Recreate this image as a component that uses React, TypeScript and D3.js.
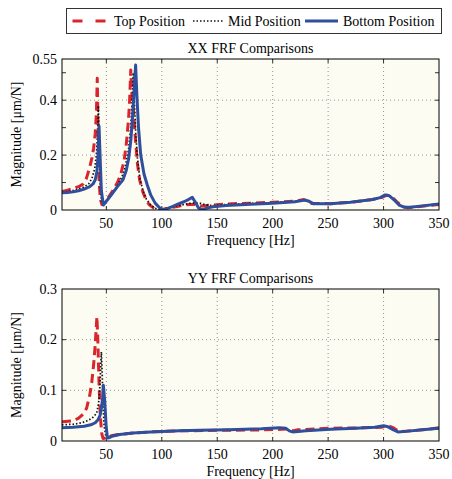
import React from "react";
import * as d3 from "d3";

// ---------- DATA ----------
const xTicks = [50, 100, 150, 200, 250, 300, 350];
const xxYTickLabels = [0, 0.2, 0.4, 0.55];
const xxYMinor = [0.1, 0.2, 0.3, 0.4, 0.5];
const yyYTickLabels = [0, 0.1, 0.2, 0.3];
const yyYMinor = [0.1, 0.2];

const seriesNames = ["Top Position", "Mid Position", "Bottom Position"];

// XX – Top position
const xxTopF = [10, 15, 20, 25, 29, 32, 35, 37, 38.5, 40, 41, 41.8, 42.5, 43.3, 44.5, 46, 50, 55, 60, 63, 66, 68, 70, 71, 72, 73, 74.5, 76, 78, 80, 83, 86, 89, 93, 97, 100, 105, 110, 115, 120, 125, 130, 135, 140, 146, 158, 180, 200, 220, 228, 231, 235, 252, 270, 290, 298, 303, 307, 312, 317, 322, 330, 350];
const xxTopV = [0.067, 0.072, 0.078, 0.085, 0.095, 0.115, 0.155, 0.19, 0.225, 0.28, 0.35, 0.48, 0.3, 0.12, 0.04, 0.02, 0.035, 0.065, 0.1, 0.13, 0.18, 0.24, 0.33, 0.4, 0.51, 0.42, 0.36, 0.27, 0.17, 0.11, 0.065, 0.035, 0.018, 0.006, 0.0, 0.002, 0.006, 0.01, 0.014, 0.018, 0.02, 0.02, 0.015, 0.016, 0.018, 0.022, 0.025, 0.028, 0.032, 0.038, 0.034, 0.024, 0.023, 0.028, 0.038, 0.045, 0.054, 0.05, 0.03, 0.012, 0.008, 0.012, 0.02];

// XX – Mid position
const xxMidF = [10, 15, 20, 25, 30, 34, 37, 39.5, 41, 42, 42.8, 43.6, 44.5, 45.8, 47.5, 50, 55, 60, 64, 67, 70, 72, 73.3, 74.3, 75.2, 76.5, 78, 80, 83, 86, 90, 94, 98, 102, 108, 115, 120, 125, 130, 135, 140, 146, 158, 180, 200, 220, 229, 232, 236, 252, 270, 290, 298, 302, 306, 311, 316, 322, 332, 350];
const xxMidV = [0.065, 0.067, 0.071, 0.076, 0.084, 0.095, 0.115, 0.15, 0.2, 0.27, 0.38, 0.22, 0.08, 0.03, 0.02, 0.032, 0.06, 0.09, 0.12, 0.155, 0.22, 0.3, 0.4, 0.5, 0.4, 0.28, 0.19, 0.12, 0.07, 0.04, 0.018, 0.006, 0.001, 0.004, 0.01, 0.016, 0.02, 0.024, 0.026, 0.024, 0.018, 0.016, 0.02, 0.024, 0.027, 0.031, 0.037, 0.034, 0.023, 0.023, 0.028, 0.038, 0.045, 0.055, 0.051, 0.032, 0.013, 0.009, 0.013, 0.021];

// XX – Bottom position
const xxBotF = [10, 15, 20, 25, 30, 35, 38, 40, 41.5, 42.5, 43.4, 44.3, 45.5, 47.3, 50, 55, 60, 65, 68, 70, 72, 74, 75.5, 76.4, 77.5, 79, 81, 84, 87, 90, 94, 98, 101, 105, 110, 115, 120, 124, 127.5, 130, 133, 136, 140, 146, 158, 180, 200, 220, 229, 232, 236.6, 252, 270, 290, 297, 301.5, 305, 310, 314, 318, 324, 335, 350];
const xxBotV = [0.063, 0.064, 0.066, 0.07, 0.076, 0.085, 0.095, 0.11, 0.14, 0.2, 0.306, 0.2, 0.07, 0.018, 0.032, 0.058, 0.085, 0.11, 0.145, 0.185, 0.25, 0.36, 0.47, 0.528, 0.42, 0.3, 0.2, 0.13, 0.09, 0.055, 0.025, 0.008, 0.0, 0.005, 0.013, 0.022, 0.03, 0.038, 0.046, 0.03, 0.008, 0.002, 0.006, 0.012, 0.016, 0.021, 0.025, 0.03, 0.036, 0.033, 0.023, 0.023, 0.028, 0.038, 0.045, 0.055, 0.052, 0.035, 0.018, 0.011, 0.01, 0.015, 0.022];

// YY – Top position
const yyTopF = [10, 20, 25, 30, 32.2, 35, 36.8, 38.5, 39.8, 40.8, 41.5, 42.3, 43.3, 44.5, 45.8, 47, 49, 52, 58, 70, 90, 116, 150, 190, 208, 214, 218, 222, 250, 280, 298, 304, 308, 313, 318, 335, 350];
const yyTopV = [0.038, 0.04, 0.045, 0.055, 0.065, 0.09, 0.115, 0.15, 0.186, 0.22, 0.245, 0.2, 0.12, 0.05, 0.015, 0.005, 0.006, 0.009, 0.012, 0.015, 0.018, 0.02, 0.021, 0.022, 0.023, 0.024, 0.02, 0.022, 0.025, 0.026, 0.027, 0.03, 0.027, 0.02, 0.019, 0.022, 0.026];

// YY – Mid position
const yyMidF = [10, 20, 28, 34, 38, 41.3, 43, 44, 44.8, 45.5, 46.3, 47, 48, 49.5, 51, 53, 60, 75, 90, 116, 134, 160, 190, 206, 212, 215, 218, 230, 252, 275, 292, 300, 304, 309, 313, 320, 335, 350];
const yyMidV = [0.032, 0.033, 0.036, 0.041, 0.047, 0.055, 0.075, 0.1, 0.14, 0.176, 0.13, 0.07, 0.03, 0.01, 0.006, 0.009, 0.013, 0.016, 0.018, 0.02, 0.021, 0.022, 0.024, 0.026, 0.025, 0.02, 0.018, 0.02, 0.023, 0.025, 0.027, 0.03, 0.028, 0.022, 0.018, 0.019, 0.022, 0.025];

// YY – Bottom position
const yyBotF = [10, 20, 30, 36, 40, 42.5, 44.3, 45.8, 46.6, 47.3, 48.5, 49.8, 51, 53, 56, 62, 74, 90, 116, 134, 160, 190, 206, 212, 215, 218, 230, 252, 275, 292, 300, 304, 309, 313, 320, 335, 350];
const yyBotV = [0.026, 0.027, 0.029, 0.032, 0.036, 0.042, 0.05, 0.068, 0.085, 0.11, 0.08, 0.03, 0.006, 0.007, 0.01, 0.013, 0.016, 0.018, 0.02, 0.021, 0.022, 0.024, 0.026, 0.025, 0.02, 0.018, 0.02, 0.023, 0.025, 0.027, 0.03, 0.028, 0.022, 0.018, 0.019, 0.022, 0.025];

// ---------- STYLE ----------
const FONT = "'Liberation Serif', 'Times New Roman', serif";
const RED = "#d9252c";
const BLUE = "#2f4f9d";
const MID = "#111";
const BG = "#fcfcf3";

const styles = [
  { stroke: RED, width: 3, dash: "9,5" },
  { stroke: MID, width: 1.7, dash: "1.5,2" },
  { stroke: BLUE, width: 3, dash: undefined as string | undefined },
];

type PanelProps = {
  id: string;
  top: number;
  bottom: number;
  left: number;
  right: number;
  yMax: number;
  yLabels: number[];
  yMinor: number[];
  title: string;
  series: { f: number[]; v: number[] }[];
};

function Panel(p: PanelProps) {
  const x = d3.scaleLinear().domain([10, 350]).range([p.left, p.right]);
  const y = d3.scaleLinear().domain([0, p.yMax]).range([p.bottom, p.top]);
  const fmt = (d: number) => (d === 0 ? "0" : String(d));
  const gridY = p.yLabels.filter((d) => d > 0 && d < p.yMax);
  const allY = Array.from(new Set([...p.yMinor, ...p.yLabels])).filter((d) => d > 0 && d < p.yMax);
  const tl = 4;
  const midX = (p.left + p.right) / 2;
  return (
    <g fontFamily={FONT} fontSize={14} fill="#000">
      <defs>
        <clipPath id={p.id}>
          <rect x={p.left} y={p.top} width={p.right - p.left} height={p.bottom - p.top} />
        </clipPath>
      </defs>
      <rect x={p.left} y={p.top} width={p.right - p.left} height={p.bottom - p.top} fill={BG} />
      {/* grid */}
      {xTicks.filter((t) => t < 350).map((t) => (
        <line key={"gx" + t} x1={x(t)} x2={x(t)} y1={p.top} y2={p.bottom} stroke="#777" strokeWidth={0.8} strokeDasharray="1,3" />
      ))}
      {gridY.map((t) => (
        <line key={"gy" + t} x1={p.left} x2={p.right} y1={y(t)} y2={y(t)} stroke="#777" strokeWidth={0.8} strokeDasharray="1,3" />
      ))}
      {/* ticks */}
      {xTicks.filter((t) => t < 350).map((t) => (
        <g key={"tx" + t}>
          <line x1={x(t)} x2={x(t)} y1={p.bottom} y2={p.bottom - tl} stroke="#000" strokeWidth={0.8} />
          <line x1={x(t)} x2={x(t)} y1={p.top} y2={p.top + tl} stroke="#000" strokeWidth={0.8} />
        </g>
      ))}
      {allY.map((t) => (
        <g key={"ty" + t}>
          <line x1={p.left} x2={p.left + tl} y1={y(t)} y2={y(t)} stroke="#000" strokeWidth={0.8} />
          <line x1={p.right} x2={p.right - tl} y1={y(t)} y2={y(t)} stroke="#000" strokeWidth={0.8} />
        </g>
      ))}
      {/* series */}
      <g clipPath={`url(#${p.id})`}>
        {p.series.map((s, i) => {
          const pts = s.f.map((f, k) => [f, s.v[k]] as [number, number]);
          const line = d3
            .line<[number, number]>()
            .x((d) => x(d[0]))
            .y((d) => y(d[1]));
          return (
            <path
              key={i}
              d={line(pts) || ""}
              fill="none"
              stroke={styles[i].stroke}
              strokeWidth={styles[i].width}
              strokeDasharray={styles[i].dash}
              strokeLinejoin="round"
            />
          );
        })}
      </g>
      {/* frame */}
      <rect x={p.left} y={p.top} width={p.right - p.left} height={p.bottom - p.top} fill="none" stroke="#000" strokeWidth={1} />
      {/* tick labels */}
      {xTicks.map((t) => (
        <text key={"lx" + t} x={x(t)} y={p.bottom + 17.5} textAnchor="middle">
          {t}
        </text>
      ))}
      {p.yLabels.map((t) => (
        <text key={"ly" + t} x={p.left - 5} y={y(t) + 4.5} textAnchor="end">
          {fmt(t)}
        </text>
      ))}
      {/* titles */}
      <text x={midX} y={p.top - 6.5} textAnchor="middle">
        {p.title}
      </text>
      <text x={midX} y={p.bottom + 34.5} textAnchor="middle">
        Frequency [Hz]
      </text>
      <text transform={`translate(21,${(p.top + p.bottom) / 2}) rotate(-90)`} textAnchor="middle">
        Magnitude [μm/N]
      </text>
    </g>
  );
}

export default function App() {
  const legendItems = [
    { x1: 72.5, x2: 106, tx: 114 },
    { x1: 193, x2: 223, tx: 228 },
    { x1: 305, x2: 338, tx: 343 },
  ];
  return (
    <svg width={452} height={479} style={{ position: "absolute", left: 0, top: 0, background: "#fff" }}>
      <rect width={452} height={479} fill="#fff" />
      <Panel
        id="clipXX"
        top={59}
        bottom={210}
        left={62}
        right={439}
        yMax={0.55}
        yLabels={xxYTickLabels}
        yMinor={xxYMinor}
        title="XX FRF Comparisons"
        series={[
          { f: xxTopF, v: xxTopV },
          { f: xxMidF, v: xxMidV },
          { f: xxBotF, v: xxBotV },
        ]}
      />
      <Panel
        id="clipYY"
        top={289}
        bottom={441}
        left={62}
        right={439}
        yMax={0.3}
        yLabels={yyYTickLabels}
        yMinor={yyYMinor}
        title="YY FRF Comparisons"
        series={[
          { f: yyTopF, v: yyTopV },
          { f: yyMidF, v: yyMidV },
          { f: yyBotF, v: yyBotV },
        ]}
      />
      {/* legend */}
      <g fontFamily={FONT} fontSize={14}>
        <rect x={66.5} y={8.5} width={375} height={25} fill="#fff" stroke="#333" strokeWidth={1} />
        {legendItems.map((it, i) => (
          <g key={i}>
            <line
              x1={it.x1}
              x2={it.x2}
              y1={21}
              y2={21}
              stroke={styles[i].stroke}
              strokeWidth={styles[i].width}
              strokeDasharray={i === 0 ? "10,13" : styles[i].dash}
            />
            <text x={it.tx} y={26}>
              {seriesNames[i]}
            </text>
          </g>
        ))}
      </g>
    </svg>
  );
}
